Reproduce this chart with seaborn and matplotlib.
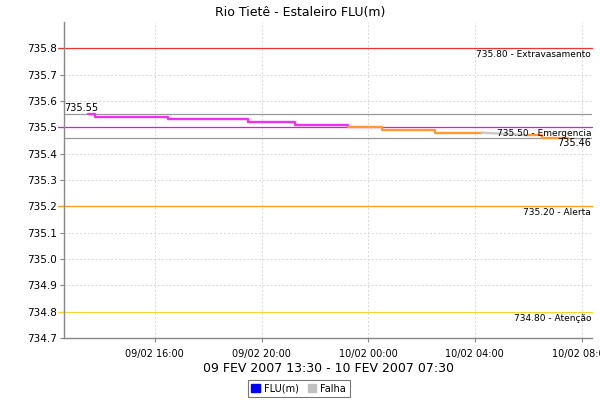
import numpy as np
import pandas as pd
import matplotlib
matplotlib.use("Agg")
import matplotlib.pyplot as plt
import matplotlib.dates as mdates
import matplotlib.patches as mpatches
import seaborn as sns

# level readings, split by colour band (above emergency = pink, else orange)
HIGH_TIMES = ["2007-02-09 13:30", "2007-02-09 13:45", "2007-02-09 16:30",
              "2007-02-09 19:30", "2007-02-09 21:15", "2007-02-09 23:15"]
HIGH_VALUES = [735.55, 735.54, 735.53, 735.52, 735.51, 735.50]

LOW1_TIMES = ["2007-02-09 23:15", "2007-02-10 00:30", "2007-02-10 02:30", "2007-02-10 04:15"]
LOW1_VALUES = [735.50, 735.49, 735.48, 735.48]

GAP_TIMES = ["2007-02-10 04:15", "2007-02-10 06:00"]
GAP_VALUES = [735.48, 735.47]

LOW2_TIMES = ["2007-02-10 06:00", "2007-02-10 06:30", "2007-02-10 07:30"]
LOW2_VALUES = [735.47, 735.46, 735.46]

THRESH_VALUES = [735.80, 735.50, 735.20, 734.80]
THRESH_NAMES = ["Extravasamento", "Emergencia", "Alerta", "Atenção"]
THRESH_COLORS = ["#ee3333", "#ff00ff", "#ff9922", "#f0d830"]

MAX_VALUE = 735.55
MIN_VALUE = 735.46

TITLE = "Rio Tietê - Estaleiro FLU(m)"
XLABEL = "09 FEV 2007 13:30 - 10 FEV 2007 07:30"
XTICKS = ["2007-02-09 16:00", "2007-02-09 20:00", "2007-02-10 00:00",
          "2007-02-10 04:00", "2007-02-10 08:00"]
YTICKS = [734.7, 734.8, 734.9, 735.0, 735.1, 735.2, 735.3, 735.4, 735.5, 735.6, 735.7, 735.8]

sns.set_theme(style="white")
plt.rcParams["font.family"] = ["DejaVu Sans"]
plt.rcParams["text.color"] = "black"
plt.rcParams["xtick.color"] = "black"
plt.rcParams["ytick.color"] = "black"
plt.rcParams["axes.labelcolor"] = "black"


def frame(times, values):
    return pd.DataFrame({"t": pd.to_datetime(times), "v": values})


fig = plt.figure(figsize=(6, 4), dpi=100)
ax = fig.add_axes([0.107, 0.155, 0.88, 0.79])

# grid
ax.set_yticks(YTICKS)
ax.set_xticks(pd.to_datetime(XTICKS))
ax.grid(True, color="#d8d8d8", ls=(0, (2, 2)), lw=0.7)

# thresholds
for val, name, col in zip(THRESH_VALUES, THRESH_NAMES, THRESH_COLORS):
    ax.axhline(val, xmin=-0.012, xmax=1, color=col, lw=0.9, clip_on=False, zorder=2)
    ax.text(0.998, val - 0.025, f"{val:.2f} - {name}", transform=ax.get_yaxis_transform(),
            ha="right", va="center", fontsize=6.5, zorder=5)

# max / min markers
ax.axhline(MAX_VALUE, color="#999999", lw=0.9, zorder=2)
ax.axhline(MIN_VALUE, color="#999999", lw=0.9, zorder=2)
ax.text(0.0, MAX_VALUE + 0.005, f"{MAX_VALUE:.2f}", transform=ax.get_yaxis_transform(),
        ha="left", va="bottom", fontsize=7, zorder=5)
ax.text(0.998, MIN_VALUE - 0.018, f"{MIN_VALUE:.2f}", transform=ax.get_yaxis_transform(),
        ha="right", va="center", fontsize=7, zorder=5)

# data series
sns.lineplot(data=frame(HIGH_TIMES, HIGH_VALUES), x="t", y="v", ax=ax,
             color="#f030f0", lw=1.7, drawstyle="steps-post", zorder=4)
sns.lineplot(data=frame(LOW1_TIMES, LOW1_VALUES), x="t", y="v", ax=ax,
             color="#ff9a33", lw=1.7, drawstyle="steps-post", zorder=4)
sns.lineplot(data=frame(GAP_TIMES, GAP_VALUES), x="t", y="v", ax=ax,
             color="#c8c8c8", lw=1.7, zorder=4)
sns.lineplot(data=frame(LOW2_TIMES, LOW2_VALUES), x="t", y="v", ax=ax,
             color="#ff9a33", lw=1.7, drawstyle="steps-post", zorder=4)

# axes
start = pd.Timestamp(HIGH_TIMES[0])
end = pd.Timestamp(LOW2_TIMES[-1])
pad = (end - start) * 0.05
ax.set_xlim(start - pad, end + pad)
ax.set_ylim(734.7, 735.9)
ax.xaxis.set_major_formatter(mdates.DateFormatter("%d/%m %H:%M"))
ax.yaxis.set_major_formatter(matplotlib.ticker.FormatStrFormatter("%.1f"))
ax.tick_params(axis="both", which="major", length=3, width=0.8, color="#888888",
               direction="out", bottom=True, left=True, labelsize=7.5, pad=2)
ax.tick_params(axis="x", labelsize=7, pad=5)
for side in ["top", "right"]:
    ax.spines[side].set_visible(False)
for side in ["left", "bottom"]:
    ax.spines[side].set_color("#888888")
    ax.spines[side].set_linewidth(1.0)

ax.set_xlabel(XLABEL, fontsize=9, labelpad=2)
ax.set_ylabel("")
fig.text(0.5, 0.985, TITLE, ha="center", va="top", fontsize=9)

handles = [mpatches.Patch(facecolor="#0000ff", edgecolor="#0000ff", label="FLU(m)"),
           mpatches.Patch(facecolor="#c0c0c0", edgecolor="#c0c0c0", label="Falha")]
leg = fig.legend(handles=handles, loc="lower center", bbox_to_anchor=(0.498, 0.0), ncol=2,
                 fontsize=7, frameon=True, fancybox=False, handlelength=0.9, handleheight=0.9,
                 handletextpad=0.4, columnspacing=0.9, borderpad=0.35, borderaxespad=0.3)
leg.get_frame().set_edgecolor("#555555")
leg.get_frame().set_linewidth(0.8)

fig.savefig("out.png", dpi=100)
